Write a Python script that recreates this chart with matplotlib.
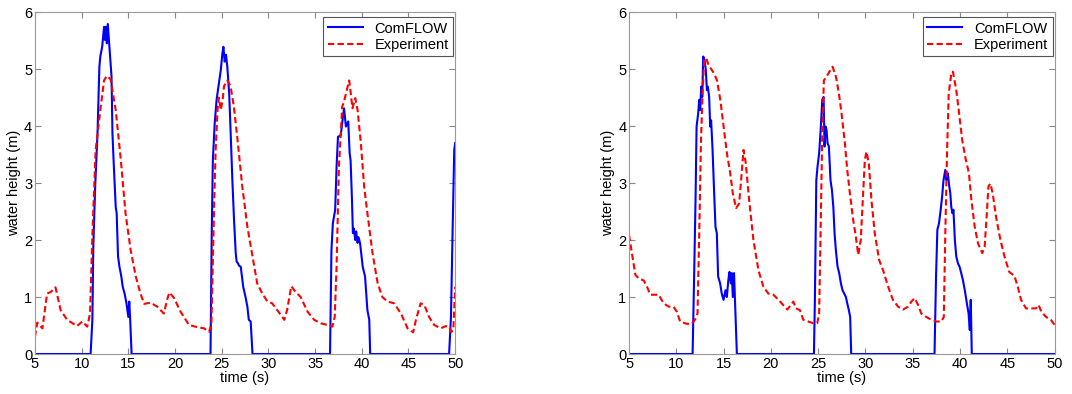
import matplotlib
matplotlib.use('Agg')
import matplotlib.pyplot as plt

plt.rcParams['font.family'] = ['Liberation Sans', 'DejaVu Sans']
plt.rcParams['font.size'] = 10.5

# left panel, ComFLOW
t_cf1 = [5, 10.96, 11.15, 11.25, 11.45, 11.7, 11.8, 11.9, 12.0, 12.2, 12.4, 12.5, 12.6, 12.7, 12.8,
         13.0, 13.2, 13.3, 13.45, 13.65, 13.75, 13.9, 14.05, 14.25, 14.4, 14.6, 14.8, 15.0, 15.1, 15.2,
         15.35, 23.8, 23.93, 24.05, 24.25, 24.45, 24.7, 24.9, 25.07, 25.18, 25.32, 25.46, 25.6, 25.8,
         25.96, 26.14, 26.32, 26.5, 26.6, 26.75, 26.85, 27.04, 27.3, 27.55, 27.75, 27.9, 28.1, 28.3,
         36.6, 36.75, 36.9, 37.15, 37.3, 37.45, 37.75, 37.9, 38.1, 38.3, 38.55, 38.7, 38.8, 38.95,
         39.05, 39.15, 39.3, 39.4, 39.55, 39.65, 39.82, 40.1, 40.35, 40.6, 40.8, 40.9, 49.35, 49.55,
         49.72, 49.9, 50]
h_cf1 = [0, 0, 0.6, 1.88, 2.94, 3.87, 4.46, 5.04, 5.22, 5.39, 5.74, 5.51, 5.74, 5.45, 5.79,
         5.33, 4.87, 3.87, 3.29, 2.58, 2.47, 1.71, 1.53, 1.36, 1.18, 1.06, 0.89, 0.65, 0.92, 0.6,
         0, 0, 2.1, 3.4, 4.05, 4.46, 4.75, 4.98, 5.27, 5.39, 5.13, 5.25, 5.04, 4.57,
         3.87, 3.05, 2.35, 1.77, 1.62, 1.59, 1.55, 1.53, 1.18, 1.0, 0.83, 0.6, 0.57, 0,
         0, 1.82, 2.29, 2.53, 3.29, 3.81, 3.84, 4.05, 4.31, 3.99, 4.08, 3.52, 3.4, 2.7,
         2.12, 2.2, 2.0, 2.15, 1.95, 2.05, 1.94, 1.53, 1.36, 0.77, 0.6, 0, 0, 0.65,
         2.12, 3.58, 3.7]

# left panel, experiment
t_ex1 = [5, 5.25, 5.8, 6.3, 6.7, 7.2, 7.75, 8.45, 9.5, 10.07, 10.6, 10.9, 11.15, 11.5, 11.75,
         12.0, 12.4, 12.7, 13.1, 13.65, 14.2, 14.7, 15.25, 15.8, 16.3, 16.7, 17.4, 18.1, 18.8,
         19.2, 19.4, 19.9, 20.6, 21.5, 22.4, 23.1, 23.65, 23.9, 24.2, 24.35, 24.55, 24.7, 24.9,
         25.1, 25.25, 25.6, 25.95, 26.3, 26.7, 27.2, 27.75, 28.3, 28.8, 29.35, 29.9, 30.4, 30.95,
         31.7, 32.0, 32.45, 32.9, 33.45, 34.2, 34.9, 35.6, 36.3, 36.85, 37.1, 37.3, 37.55, 37.75,
         37.9, 38.1, 38.35, 38.65, 38.8, 39.0, 39.3, 39.55, 39.9, 40.25, 40.6, 41.15, 41.7, 42.2,
         42.75, 43.45, 44.2, 44.9, 45.5, 45.8, 46.3, 46.7, 47.2, 47.75, 48.45, 49.0, 49.35, 49.6,
         49.8, 50]
h_ex1 = [0.3, 0.55, 0.45, 1.06, 1.09, 1.17, 0.77, 0.6, 0.49, 0.57, 0.48, 0.71, 2.1, 3.58, 3.93,
         4.28, 4.8, 4.88, 4.82, 4.28, 3.4, 2.47, 1.82, 1.36, 1.06, 0.88, 0.9, 0.83, 0.71,
         0.98, 1.08, 0.98, 0.74, 0.51, 0.47, 0.45, 0.39, 0.54, 2.7, 3.58, 4.28, 4.5, 4.28,
         4.46, 4.7, 4.8, 4.7, 4.34, 3.75, 2.94, 2.23, 1.71, 1.24, 1.06, 0.92, 0.89, 0.77,
         0.6, 0.77, 1.19, 1.09, 1.0, 0.74, 0.6, 0.54, 0.51, 0.48, 0.65, 1.53, 3.29, 3.87,
         4.34, 4.43, 4.6, 4.8, 4.6, 4.31, 4.49, 4.28, 3.7, 2.94, 2.47, 1.77, 1.24, 1.0,
         0.92, 0.89, 0.71, 0.45, 0.38, 0.6, 0.89, 0.86, 0.65, 0.51, 0.45, 0.49, 0.48, 0.39,
         0.42, 1.18]

# right panel, ComFLOW
t_cf2 = [5, 11.72, 11.9, 12.03, 12.14, 12.31, 12.42, 12.52, 12.63, 12.74, 12.84, 12.98, 13.12,
         13.23, 13.33, 13.47, 13.58, 13.68, 13.83, 14.0, 14.14, 14.28, 14.42, 14.63, 14.8, 14.99,
         15.2, 15.34, 15.5, 15.62, 15.76, 15.86, 15.97, 16.1, 16.2, 16.4, 24.55, 24.65, 24.8,
         24.93, 25.1, 25.28, 25.43, 25.57, 25.67, 25.78, 25.88, 25.99, 26.13, 26.3, 26.45, 26.6,
         26.73, 26.87, 27.05, 27.22, 27.4, 27.57, 27.75, 27.93, 28.07, 28.24, 28.38, 28.49,
         37.3, 37.46, 37.6, 37.77, 37.95, 38.1, 38.25, 38.44, 38.57, 38.7, 38.86, 38.97, 39.07,
         39.2, 39.3, 39.45, 39.6, 39.78, 39.95, 40.12, 40.3, 40.5, 40.72, 40.9, 41.03, 41.13,
         41.24, 50]
h_cf2 = [0, 0, 1.53, 2.7, 3.99, 4.22, 4.46, 4.28, 4.69, 4.51, 5.22, 5.16, 4.98,
         4.63, 4.69, 4.51, 3.99, 4.1, 3.58, 2.82, 2.23, 2.12, 1.36, 1.24, 1.06, 0.95,
         1.12, 1.0, 1.3, 1.44, 1.24, 1.42, 1.0, 1.42, 0.95, 0, 0, 0.95, 3.05,
         3.29, 3.52, 3.99, 4.46, 4.51, 3.64, 3.99, 3.93, 3.7, 3.64, 3.05, 2.88, 2.58,
         2.12, 1.82, 1.53, 1.42, 1.24, 1.12, 1.06, 1.0, 0.89, 0.77, 0.65, 0,
         0, 1.36, 2.18, 2.29, 2.53, 2.76, 3.05, 3.23, 3.05, 3.17, 2.94, 2.82, 2.58,
         2.47, 2.53, 2.0, 1.71, 1.59, 1.53, 1.42, 1.3, 1.12, 0.89, 0.71, 0.42, 0.95,
         0, 0]

# right panel, experiment
t_ex2 = [5, 5.3, 5.67, 6.0, 6.55, 6.9, 7.25, 7.8, 8.13, 8.65, 9.2, 9.7, 10.06, 10.4, 11.1,
         11.65, 12.0, 12.24, 12.42, 12.6, 12.77, 12.95, 13.16, 13.4, 13.76, 14.0, 14.3, 14.65,
         15.0, 15.35, 15.7, 15.97, 16.32, 16.64, 16.85, 17.1, 17.34, 17.7, 18.15, 18.68, 19.2,
         19.73, 20.26, 20.8, 21.3, 21.73, 22.1, 22.37, 22.65, 23.07, 23.42, 23.95, 24.48, 24.9,
         25.1, 25.25, 25.43, 25.6, 25.9, 26.17, 26.52, 26.87, 27.19, 27.47, 27.82, 28.07, 28.35,
         28.7, 28.98, 29.23, 29.5, 29.75, 29.93, 30.1, 30.35, 30.63, 30.98, 31.44, 31.86, 32.4,
         32.9, 33.45, 33.97, 34.5, 34.85, 35.2, 35.56, 35.9, 36.43, 36.96, 37.5, 38.03, 38.28,
         38.44, 38.63, 38.8, 39.1, 39.25, 39.6, 39.9, 40.23, 40.58, 40.94, 41.2, 41.55, 41.9,
         42.35, 42.6, 42.83, 43.0, 43.2, 43.45, 43.8, 44.27, 44.7, 45.2, 45.75, 46.1, 46.45,
         46.97, 47.5, 48.03, 48.3, 48.6, 49.1, 49.6, 50]
h_ex2 = [2.09, 1.77, 1.39, 1.33, 1.29, 1.18, 1.04, 1.04, 1.04, 0.89, 0.83, 0.83, 0.74, 0.57, 0.53,
         0.53, 0.61, 0.71, 2.12, 3.7, 4.57, 5.16, 5.19, 5.07, 4.98, 4.92, 4.8, 4.46,
         3.99, 3.52, 3.17, 2.82, 2.56, 2.64, 3.05, 3.58, 3.35, 2.7, 2.0, 1.47, 1.18,
         1.06, 1.04, 0.95, 0.86, 0.78, 0.86, 0.92, 0.8, 0.77, 0.6, 0.57, 0.54, 0.54,
         0.71, 2.12, 3.87, 4.8, 4.87, 4.95, 5.04, 4.87, 4.57, 4.22, 3.7, 3.23, 2.82,
         2.35, 2.06, 1.74, 2.0, 2.82, 3.4, 3.55, 3.35, 2.7, 2.12, 1.65, 1.47, 1.18,
         0.95, 0.83, 0.78, 0.83, 0.92, 0.98, 0.86, 0.71, 0.65, 0.6, 0.57, 0.57, 0.65,
         2.12, 3.58, 4.57, 4.95, 4.95, 4.63, 4.22, 3.75, 3.43, 3.17, 2.7, 2.23, 1.94,
         1.77, 1.88, 2.47, 2.94, 2.99, 2.82, 2.41, 2.0, 1.71, 1.44, 1.37, 1.18, 0.95,
         0.8, 0.8, 0.8, 0.86, 0.74, 0.65, 0.6, 0.51]

xticks = [5, 10, 15, 20, 25, 30, 35, 40, 45, 50]
yticks = [0, 1, 2, 3, 4, 5, 6]

fig = plt.figure(figsize=(10.72, 3.94), dpi=100)
ax1 = fig.add_axes([0.0326, 0.1015, 0.392, 0.868])
ax2 = fig.add_axes([0.5868, 0.1015, 0.397, 0.868])

panels = [(ax1, t_cf1, h_cf1, t_ex1, h_ex1), (ax2, t_cf2, h_cf2, t_ex2, h_ex2)]
for ax, tc, hc, te, he in panels:
    ax.plot(tc, hc, color=(0, 0, 1), lw=1.5, label='ComFLOW')
    ax.plot(te, he, color=(1, 0, 0), lw=1.5, ls='--', dashes=(3, 1.6), label='Experiment')
    ax.set_xlim(5, 50)
    ax.set_ylim(0, 6)
    ax.set_xticks(xticks)
    ax.set_yticks(yticks)
    ax.tick_params(direction='in', top=True, right=True, length=4, color='#888888', pad=2)
    for s in ax.spines.values():
        s.set_color('#999999')
    ax.set_xlabel('time (s)', labelpad=0)
    ax.set_ylabel('water height (m)', labelpad=2)
    leg = ax.legend(loc='upper right', bbox_to_anchor=(0.995, 0.985), fancybox=False,
                    edgecolor='#555555', framealpha=1, borderaxespad=0, handlelength=2.4,
                    borderpad=0.3, labelspacing=0.15)
    leg.get_frame().set_linewidth(0.8)

fig.savefig('out.png', dpi=100)
